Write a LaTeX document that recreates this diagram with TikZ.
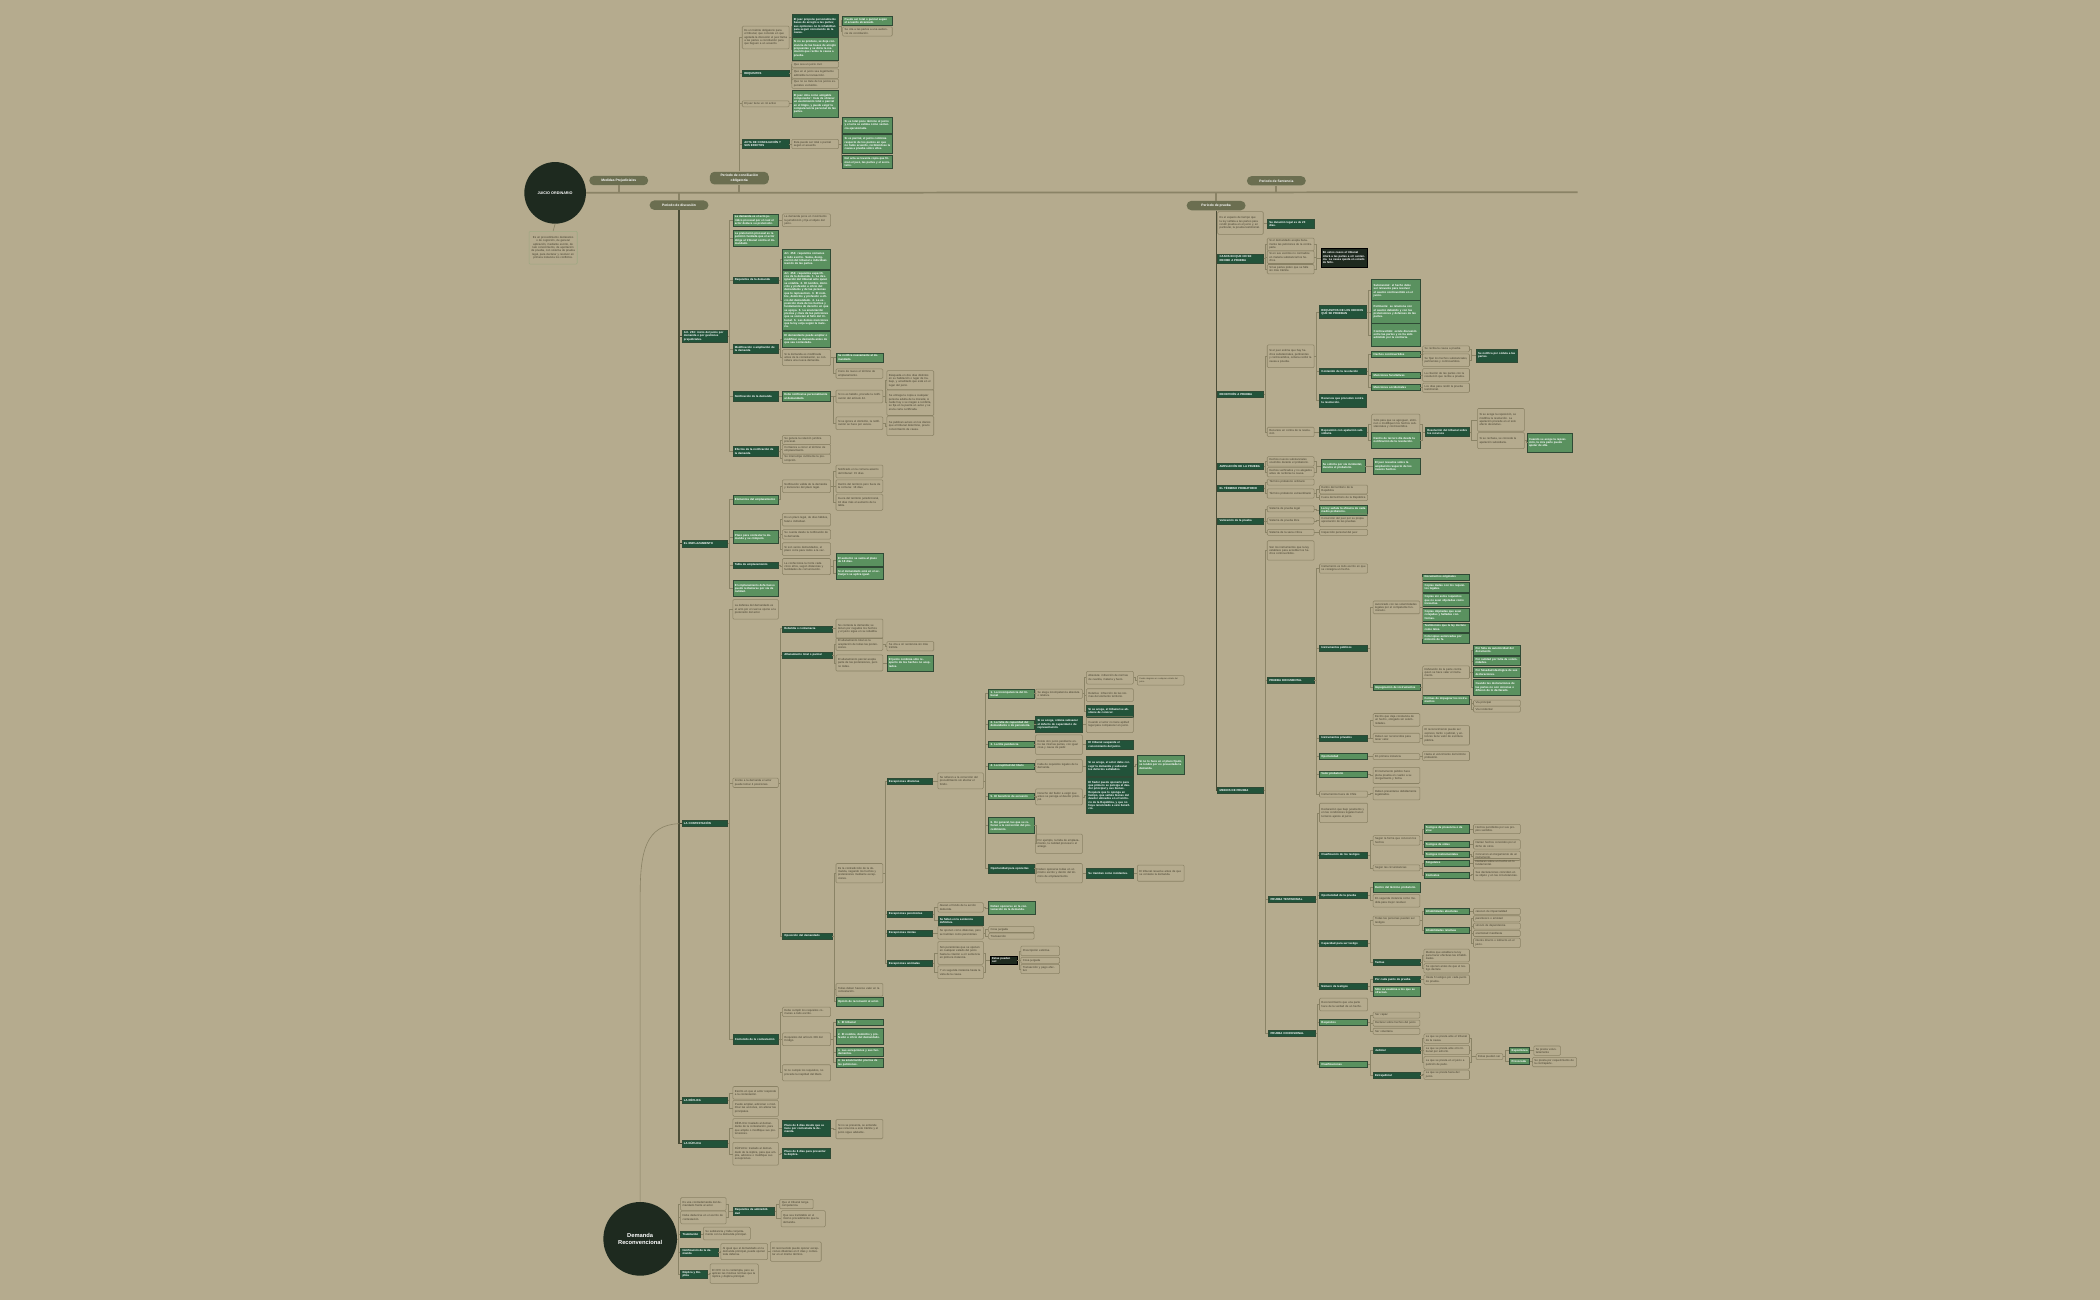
\documentclass[tikz,border=0pt]{standalone}
\usepackage{fontspec}
\setmainfont{Liberation Sans}
\usepackage{tikz}
\usetikzlibrary{positioning}

\definecolor{fondo}{HTML}{B5AB8E}
\definecolor{verdeosc}{HTML}{22533A}
\definecolor{verdecla}{HTML}{5A915F}
\definecolor{bordeosc}{HTML}{2F4A35}
\definecolor{borde}{HTML}{8A8265}
\definecolor{bordeclaro}{HTML}{9DA882}
\definecolor{oliva}{HTML}{6B6E50}
\definecolor{negro}{HTML}{1E2A1F}
\definecolor{texto}{HTML}{433E2D}
\definecolor{linea}{HTML}{8A8366}
\definecolor{ejes}{HTML}{4A4C36}

\begin{document}
\begin{tikzpicture}[x=1pt,y=-1pt,
	caja/.style={anchor=west, text width=31pt, inner xsep=1.5pt, inner ysep=1pt, align=left, line width=0.4pt, font=\fontsize{2.1}{2.5}\selectfont},
	osc/.style={caja, fill=verdeosc, draw=bordeosc, text=white, font=\fontsize{2.1}{2.5}\selectfont\bfseries},
	cla/.style={caja, fill=verdecla, draw=bordeosc, text=white, font=\fontsize{2.1}{2.5}\selectfont\bfseries},
	gri/.style={caja, draw=borde, rounded corners=0.8pt, text=texto},
	neg/.style={caja, fill=negro, draw=black, text=white, font=\fontsize{2.1}{2.5}\selectfont\bfseries},
	pil/.style={fill=oliva, text=white, rounded corners=3.5pt, minimum width=44pt, minimum height=7pt, inner sep=0.5pt, align=center, font=\fontsize{2.5}{3}\selectfont\bfseries},
	circ/.style={circle, fill=negro, text=white, align=center, inner sep=0pt},
	tw/.style={text width=#1pt},
	nl/.style={minimum height=#1*2.5pt+2pt},
	ln/.style={draw=linea, line width=0.45pt},
	eje/.style={draw=ejes, line width=0.8pt},
	tl/.style={draw=linea, line width=1.3pt}]

\fill[fondo] (0,0) rectangle (1568,971);
\useasboundingbox (0,0) rectangle (1568,971);

% linea de tiempo
\node[circ, minimum size=46pt, font=\fontsize{2.8}{3.3}\selectfont\bfseries] (jo) at (414.5,144) {JUICIO ORDINARIO};
\node[gri, anchor=north, tw=33, align=center, draw=bordeclaro, nl=9] (jodef) at (413,172.5) {Es un procedimiento declarativo o de cognición, de general aplicación, mediante escrito, de lato conocimiento, de aportación de prueba, con sistema de prueba legal, para declarar y resolver en primera instancia los conflictos.};
\coordinate (finlinea) at (1178,143.5);

\node[pil] (mp) at (462,134.8) {Medidas Prejudiciales};
\node[pil, minimum height=9.5pt] (pc) at (552,133) {Periodo de conciliación\\obligatoria};
\node[pil] (pd) at (507,153.2) {Periodo de discusión};
\node[pil] (ps) at (953,135) {Periodo de Sentencia};
\node[pil] (pp) at (908,153.5) {Periodo de prueba};

% conciliacion
\node[gri, tw=32, nl=6] (c1) at (554,28) {Es un trámite obligatorio para el tribunal, que consiste en que agotada la discusión el juez llama a las partes a conciliación para que lleguen a un acuerdo.};
\node[osc, tw=32, nl=6] (c1a) at (591,19.5) {El juez propone personalmente bases de arreglo a las partes; sus opiniones no lo inhabilitan para seguir conociendo de la causa.};
\node[cla, tw=34, nl=2] (c1a1) at (629,15.5) {Puede ser total o parcial según el acuerdo alcanzado.};
\node[gri, tw=34, nl=2] (c1a2) at (629,23.5) {Se cita a las partes a una audiencia de conciliación.};
\node[cla, tw=32, nl=6] (c1b) at (591,36.5) {Si no se produce, se deja constancia de las bases de arreglo propuestas y se dicta la resolución que recibe la causa a prueba.};
\node[osc, tw=32, nl=1] (c2) at (554,55) {REQUISITOS};
\node[gri, tw=32, nl=1] (c2a) at (591,48) {Que sea un juicio civil.};
\node[gri, tw=32, nl=2] (c2b) at (591,55) {Que en el juicio sea legalmente admisible la transacción.};
\node[gri, tw=32, nl=2] (c2c) at (591,62.5) {Que no se trate de los juicios especiales excluidos.};
\node[gri, tw=32, nl=1] (c3) at (554,77.5) {El juez tiene un rol activo};
\node[cla, tw=32, nl=7] (c3a) at (591,77.5) {El juez obra como amigable componedor: trata de obtener un avenimiento total o parcial en el litigio, y puede exigir la comparecencia personal de las partes.};
\node[osc, tw=32, nl=2] (c4) at (554,107.5) {ACTA DE CONCILIACIÓN Y SUS EFECTOS};
\node[gri, tw=32, nl=2] (c4a) at (591,107.5) {Esta puede ser total o parcial según el acuerdo.};
\node[cla, tw=34, nl=4] (c4a1) at (629,93.5) {Si es total pone término al juicio y el acta se estima como sentencia ejecutoriada.};
\node[cla, tw=34, nl=5] (c4a2) at (629,107.5) {Si es parcial, el juicio continúa respecto de los puntos en que no hubo acuerdo, recibiéndose la causa a prueba sobre ellos.};
\node[cla, tw=34, nl=3] (c4a3) at (629,121) {Del acta se levanta copia que firman el juez, las partes y el secretario.};

% discusion
\node[osc, nl=3] (d1) at (509,251) {Art. 253: inicio del juicio por demanda o por gestiones prejudiciales.};
\node[cla, nl=3] (d1a) at (547,164.5) {La demanda es el acto jurídico procesal por el cual el actor deduce su pretensión.};
\node[gri, tw=33, nl=3] (d1a1) at (584,164.5) {La demanda pone en movimiento la jurisdicción y fija el objeto del juicio.};
\node[cla, nl=4] (d1b) at (547,178) {La pretensión procesal es la petición fundada que el actor dirige al tribunal contra el demandado.};
\node[osc, nl=1] (d1c) at (547,209) {Requisitos de la demanda};
\node[cla, tw=33, nl=5] (d1c1) at (584,193.5) {Art. 254: requisitos comunes a todo escrito. Suma, designación del tribunal e individualización de las partes.};
\node[cla, tw=33, nl=17] (d1c2) at (584,224) {Art. 254: requisitos específicos de la demanda. 1. La designación del tribunal ante quien se entabla. 2. El nombre, domicilio y profesión u oficio del demandante y de las personas que lo representen. 3. El nombre, domicilio y profesión u oficio del demandado. 4. La exposición clara de los hechos y fundamentos de derecho en que se apoya. 5. La enunciación precisa y clara de las peticiones que se sometan al fallo del tribunal. 6. Las demás menciones que la ley exija según la materia.};
\node[osc, nl=2] (d1d) at (547,260.5) {Modificación o ampliación de la demanda};
\node[cla, tw=33, nl=4] (d1d1) at (584,253.5) {El demandante puede ampliar o modificar su demanda antes de que sea contestada.};
\node[gri, tw=33, nl=4] (d1d2) at (584,267) {Si la demanda es modificada antes de la contestación, se considera una nueva demanda.};
\node[cla, tw=32, nl=2] (d1d21) at (624,267) {Se notifica nuevamente al demandado.};
\node[gri, tw=32, nl=2] (d1d22) at (624,279) {Corre de nuevo el término de emplazamiento.};
\node[osc, nl=2] (d1e) at (547,296) {Notificación de la demanda};
\node[cla, tw=33, nl=2] (d1e1) at (584,296) {Debe notificarse personalmente al demandado.};
\node[gri, tw=32, nl=3] (d1e11) at (624,296) {Si no es habido, procede la notificación del artículo 44.};
\node[gri, tw=32, nl=3] (d1e12) at (624,316) {Si se ignora el domicilio, la notificación se hace por avisos.};
\node[gri, tw=32, nl=5] (d1e111) at (662,284) {Búsqueda en dos días distintos en su habitación o lugar de trabajo, y acreditado que está en el lugar del juicio.};
\node[gri, tw=32, nl=7] (d1e112) at (662,300.5) {Se entrega la copia a cualquier persona adulta de la morada; si nadie hay o se niegan a recibirla, se fija en la puerta un aviso y se envía carta certificada.};
\node[gri, tw=32, nl=5] (d1e121) at (662,318) {Se publican avisos en los diarios que el tribunal determine, previo conocimiento de causa.};
\node[osc, nl=2] (d1f) at (547,337) {Efectos de la notificación de la demanda};
\node[gri, tw=33, nl=2] (d1f1) at (584,328.5) {Se genera la relación jurídica procesal.};
\node[gri, tw=33, nl=2] (d1f2) at (584,335.5) {Comienza a correr el término de emplazamiento.};
\node[gri, tw=33, nl=2] (d1f3) at (584,342.5) {Se interrumpe civilmente la prescripción.};

\node[osc, nl=1] (d2) at (509,406) {EL EMPLAZAMIENTO};
\node[cla, nl=2] (d2a) at (547,373) {Elementos del emplazamiento};
\node[gri, tw=33, nl=3] (d2a1) at (584,363) {Notificación válida de la demanda y transcurso del plazo legal.};
\node[gri, tw=32, nl=3] (d2a11) at (624,352) {Notificado en la comuna asiento del tribunal: 15 días.};
\node[gri, tw=32, nl=3] (d2a12) at (624,363) {Dentro del territorio pero fuera de la comuna: 18 días.};
\node[gri, tw=32, nl=4] (d2a13) at (624,375) {Fuera del territorio jurisdiccional, 18 días más el aumento de la tabla.};
\node[cla, nl=3] (d2b) at (547,401) {Plazo para contestar la demanda y su cómputo.};
\node[gri, tw=33, nl=3] (d2b1) at (584,388) {Es un plazo legal, de días hábiles, fatal e individual.};
\node[gri, tw=33, nl=2] (d2b2) at (584,399) {Se cuenta desde la notificación de la demanda.};
\node[gri, tw=33, nl=3] (d2b3) at (584,410) {Si son varios demandados, el plazo corre para todos a la vez.};
\node[osc, nl=1] (d2c) at (547,422) {Tabla de emplazamiento};
\node[gri, tw=33, nl=4] (d2c1) at (584,423) {La confecciona la Corte cada cinco años, según distancias y facilidades de comunicación.};
\node[cla, tw=32, nl=3] (d2c11) at (624,418) {El aumento se suma al plazo de 18 días.};
\node[cla, tw=32, nl=3] (d2c12) at (624,428) {Si el demandado está en el extranjero se aplica igual.};
\node[cla, nl=4] (d2d) at (547,439.5) {El emplazamiento defectuoso puede reclamarse por vía de nulidad.};

\node[osc, nl=1] (d3) at (509,615) {LA CONTESTACIÓN};
\node[gri, nl=5] (d3a) at (547,455) {La defensa del demandado es el acto por el cual se opone a la pretensión del actor.};
\node[gri, nl=2] (d3b) at (547,584.5) {Frente a la demanda el actor puede tomar 4 posiciones.};
\node[osc, tw=34, nl=1] (d3b1) at (584,469.5) {Rebeldía o contumacia};
\node[gri, tw=32, nl=5] (d3b11) at (624,469.5) {No contesta la demanda; se tienen por negados los hechos y el juicio sigue en su rebeldía.};
\node[osc, tw=34, nl=1] (d3b2) at (584,489) {Allanamiento total o parcial};
\node[gri, tw=32, nl=3] (d3b21) at (624,481) {El allanamiento total es la aceptación de todas las pretensiones.};
\node[gri, tw=32, nl=2] (d3b211) at (662,482.5) {Se cita a oír sentencia sin más trámite.};
\node[gri, tw=32, nl=4] (d3b22) at (624,495) {El allanamiento parcial acepta parte de las pretensiones, pero no todas.};
\node[cla, tw=32, nl=4] (d3b221) at (662,495) {El juicio continúa sólo respecto de los hechos no aceptados.};
\node[osc, tw=34, nl=1] (d3b3) at (584,699) {Oposición del demandado};
\node[gri, tw=32, nl=5] (d3b31) at (624,652) {Es la contradicción de la demanda, negando los hechos y pretensiones mediante excepciones.};
\node[gri, tw=32, nl=3] (d3b32) at (624,739) {Todas deben hacerse valer en la contestación.};
\node[cla, tw=32, nl=2] (d3b33) at (624,748) {Opción de reconvenir al actor.};

\node[osc, nl=1] (e1) at (662,583.5) {Excepciones dilatorias};
\node[gri, nl=4] (e1a) at (700,583) {Se refieren a la corrección del procedimiento sin afectar el fondo.};
\node[cla, nl=1] (x1) at (738,518) {1. La incompetencia del tribunal};
\node[gri, tw=32, nl=2] (x1a) at (773,518) {Se alega incompetencia absoluta o relativa.};
\node[gri, tw=32, nl=3] (x1a1) at (811,506) {Absoluta: infracción de normas de cuantía, materia y fuero.};
\node[gri, tw=32, nl=2, font=\fontsize{1.6}{2}\selectfont] (x1a11) at (849,508) {Puede alegarse en cualquier estado del juicio.};
\node[gri, tw=32, nl=3] (x1a2) at (811,519) {Relativa: infracción de las normas del elemento territorio.};
\node[osc, tw=32, nl=3] (x1a3) at (811,531) {Si se acoge, el tribunal se abstiene de conocer.};
\node[cla, nl=2] (x2) at (738,541) {2. La falta de capacidad del demandante o de personería.};
\node[osc, tw=32, nl=4] (x2a) at (773,541) {Si se acoge, ordena subsanar el defecto de capacidad o de representación.};
\node[gri, tw=32, nl=4] (x2a1) at (811,541) {Cuando el actor no tiene aptitud legal para comparecer en juicio.};
\node[cla, nl=1] (x3) at (738,556) {3. La litis pendencia};
\node[gri, tw=32, nl=5] (x3a) at (773,556) {Existe otro juicio pendiente entre las mismas partes, con igual cosa y causa de pedir.};
\node[osc, tw=32, nl=2] (x3a1) at (811,556) {El tribunal suspende el conocimiento del juicio.};
\node[cla, nl=1] (x4) at (738,572) {4. La ineptitud del libelo};
\node[gri, tw=32, nl=3] (x4a) at (773,572) {Falta de requisitos legales de la demanda.};
\node[osc, tw=32, nl=5] (x4a1) at (811,572) {Si se acoge, el actor debe corregir la demanda y subsanar los defectos señalados.};
\node[cla, tw=32, nl=5] (x4a11) at (849,571) {Si no lo hace en el plazo fijado, se tendrá por no presentada la demanda.};
\node[cla, nl=1] (x5) at (738,594.5) {5. El beneficio de excusión};
\node[gri, tw=32, nl=4] (x5a) at (773,595) {Derecho del fiador a exigir que antes se persiga al deudor principal.};
\node[osc, tw=32, nl=10] (x5a1) at (811,594) {El fiador puede oponerlo para que primero se persiga al deudor principal y sus bienes. Requiere que lo oponga en tiempo, que señale bienes del deudor ubicados en el territorio de la República, y que no haya renunciado a este beneficio.};
\node[cla, nl=4] (x6) at (738,616.5) {6. En general, las que se refieren a la corrección del procedimiento.};
\node[gri, tw=32, nl=5] (x6a) at (773,630) {Por ejemplo, la falta de emplazamiento, la nulidad procesal o el arraigo.};
\node[osc, nl=2] (x7) at (738,648.5) {Oportunidad para oponerlas};
\node[gri, tw=32, nl=5] (x7a) at (773,652) {Deben oponerse todas en un mismo escrito y dentro del término de emplazamiento.};
\node[osc, tw=32, nl=2] (x7a1) at (811,652) {Se tramitan como incidentes.};
\node[gri, tw=32, nl=4] (x7a11) at (849,652) {El tribunal resuelve antes de que se conteste la demanda.};

\node[osc, nl=1] (e2) at (662,682.5) {Excepciones perentorias};
\node[gri, nl=2] (e2a) at (700,677.5) {Atacan el fondo de la acción deducida.};
\node[cla, tw=32, nl=3] (e2a1) at (738,678) {Deben oponerse en la contestación de la demanda.};
\node[osc, nl=2] (e2b) at (700,687.5) {Se fallan en la sentencia definitiva.};
\node[osc, nl=1] (e3) at (662,696.5) {Excepciones mixtas};
\node[gri, nl=3] (e3a) at (700,696.5) {Se oponen como dilatorias, pero se tramitan como perentorias.};
\node[gri, nl=1] (e3a1) at (738,694) {Cosa juzgada};
\node[gri, nl=1] (e3a2) at (738,699) {Transacción};
\node[osc, nl=1] (e4) at (662,719.5) {Excepciones anómalas};
\node[gri, nl=6] (e4a) at (700,711.5) {Son perentorias que se oponen en cualquier estado del juicio hasta la citación a oír sentencia en primera instancia.};
\node[gri, nl=3] (e4b) at (700,726) {Y en segunda instancia hasta la vista de la causa.};
\node[neg, tw=17, nl=1] (e4c) at (739,717) {Estas pueden ser:};
\node[gri, tw=26, nl=2] (e4c1) at (762,710) {Prescripción extintiva};
\node[gri, tw=26, nl=1] (e4c2) at (762,717) {Cosa juzgada};
\node[gri, tw=26, nl=2] (e4c3) at (762,723.5) {Transacción y pago efectivo};

\node[osc, nl=2] (d3c) at (547,776) {Contenido de la contestación};
\node[gri, tw=33, nl=2] (d3c1) at (584,755.5) {Debe cumplir los requisitos comunes a todo escrito.};
\node[gri, tw=33, nl=3] (d3c2) at (584,776) {Requisitos del artículo 309 del Código.};
\node[cla, tw=32, nl=1] (d3c21) at (624,763.5) {1. El tribunal};
\node[cla, tw=32, nl=4] (d3c22) at (624,773.5) {2. El nombre, domicilio y profesión u oficio del demandado.};
\node[cla, tw=32, nl=2] (d3c23) at (624,785.5) {3. Las excepciones y sus fundamentos.};
\node[cla, tw=32, nl=2] (d3c24) at (624,793.5) {4. La enunciación precisa de las peticiones.};
\node[gri, tw=33, nl=4] (d3c3) at (584,801) {Si no cumple los requisitos, no procede la ineptitud del libelo.};

\node[osc, nl=1] (d4) at (509,821.5) {LA RÉPLICA};
\node[gri, nl=3] (d4a) at (547,816) {Escrito en que el actor responde a la contestación.};
\node[gri, nl=4] (d4b) at (547,827.5) {Puede ampliar, adicionar o modificar las acciones, sin alterar las principales.};
\node[osc, nl=1] (d5) at (509,854) {LA DÚPLICA};
\node[gri, nl=5] (d5a) at (547,842.5) {RÉPLICA: traslado al demandante de la contestación, para que amplíe o modifique sus pretensiones.};
\node[osc, tw=33, nl=4] (d5a1) at (584,842.5) {Plazo de 6 días desde que se tiene por contestada la demanda.};
\node[gri, tw=32, nl=5] (d5a11) at (624,843) {Si no se presenta, se entiende que renuncia a este trámite y el juicio sigue adelante.};
\node[gri, nl=6] (d5b) at (547,861.5) {DÚPLICA: traslado al demandado de la réplica, para que amplíe, adicione o modifique sus excepciones.};
\node[osc, tw=33, nl=2] (d5b1) at (584,861) {Plazo de 6 días para presentar la dúplica.};

% reconvencion
\node[circ, minimum size=55pt, font=\fontsize{4.3}{5.4}\selectfont\bfseries] (dr) at (478,925) {Demanda\\Reconvencional};
\coordinate (codo) at (478,668);
\node[gri, nl=3] (r1) at (508,899) {Es una contrademanda del demandado frente al actor.};
\node[gri, nl=3] (r2) at (508,909) {Debe deducirse en el escrito de contestación.};
\node[osc, tw=28, nl=1] (r3) at (547,904.5) {Requisitos de admisibilidad};
\node[gri, tw=22, nl=2] (r31) at (582,899) {Que el tribunal tenga competencia.};
\node[gri, tw=30, nl=4] (r32) at (583,910) {Que sea tramitable en el mismo procedimiento que la demanda.};
\node[osc, tw=12, nl=1] (r4) at (508,921.5) {Tramitación};
\node[gri, tw=32, nl=3] (r41) at (525,921) {Se substancia y falla conjuntamente con la demanda principal.};
\node[osc, tw=25, nl=1] (r5) at (508,935) {Notificación de la demanda};
\node[gri, tw=32, nl=4] (r51) at (538,934.5) {Al igual que el demandado en la demanda principal, puede oponer toda defensa.};
\node[gri, tw=35, nl=5] (r511) at (575,934.5) {El reconvenido puede oponer excepciones dilatorias en 6 días y contestar en el mismo término.};
\node[osc, tw=17, nl=1] (r6) at (508,951.5) {Réplica y Dúplica};
\node[gri, tw=33, nl=5] (r61) at (530,951) {El CPC no lo contempla, pero se aplican las mismas normas que la réplica y dúplica principal.};

% prueba
\node[gri, nl=6] (p1) at (909,166.5) {Es el espacio de tiempo que la ley señala a las partes para rendir prueba en el juicio y, en particular, la prueba testimonial.};
\node[osc, tw=32, nl=2] (p1a) at (946,167) {Su duración legal es de 20 días.};
\node[osc, nl=2] (p2) at (909,193) {CASOS EN QUE NO SE RECIBE A PRUEBA};
\node[gri, tw=32, nl=3] (p2a) at (946,182.5) {Si el demandado acepta llanamente las peticiones de la contraparte.};
\node[gri, tw=32, nl=3] (p2b) at (946,192) {Si en sus escritos no contradice en materia substancial los hechos.};
\node[gri, tw=32, nl=2] (p2c) at (946,201) {Si las partes piden que se falle sin más trámite.};
\node[neg, tw=32, nl=5] (p2d) at (986,192.5) {En estos casos el tribunal citará a las partes a oír sentencia. La causa queda en estado de fallo.};
\node[osc, nl=1] (p3) at (909,294.5) {RECEPCIÓN A PRUEBA};
\node[gri, tw=32, nl=6] (p3a) at (946,266) {Si el juez estima que hay hechos substanciales, pertinentes y controvertidos, ordena recibir la causa a prueba.};
\node[osc, tw=32, nl=3] (p3a1) at (985,233) {REQUISITOS DE LOS HECHOS QUE SE PRUEBAN};
\node[cla, tw=33, nl=6] (p3a11) at (1024,217) {Substancial: el hecho debe ser relevante para resolver el asunto controvertido en el juicio.};
\node[cla, tw=33, nl=6] (p3a12) at (1024,233) {Pertinente: se relaciona con el asunto debatido y con las pretensiones y defensas de las partes.};
\node[cla, tw=33, nl=6] (p3a13) at (1024,250) {Controvertido: existe discusión entre las partes y no ha sido admitido por la contraria.};
\node[osc, tw=32, nl=1] (p3a2) at (985,277) {Contenido de la resolución};
\node[cla, tw=33, nl=1] (p3a21) at (1024,264.5) {Hechos controvertidos};
\node[gri, tw=32, nl=1] (p3a211) at (1062,260.5) {Se reciba la causa a prueba};
\node[gri, tw=32, nl=3] (p3a212) at (1062,269) {Se fijan los hechos substanciales, pertinentes y controvertidos.};
\node[osc, tw=28, nl=3] (p3a213) at (1102,265.5) {Se notifica por cédula a las partes.};
\node[cla, tw=33, nl=1] (p3a22) at (1024,280) {Menciones facultativas};
\node[gri, tw=32, nl=3] (p3a221) at (1062,280) {La citación de las partes con la resolución que recibe a prueba.};
\node[cla, tw=33, nl=1] (p3a23) at (1024,289) {Menciones accidentales};
\node[gri, tw=32, nl=2] (p3a231) at (1062,289.5) {Los días para rendir la prueba testimonial.};
\node[osc, tw=32, nl=3] (p3a3) at (985,299) {Recursos que proceden contra la resolución.};
\node[gri, tw=32, nl=2] (p3b) at (946,322.5) {Recursos en contra de la resolución};
\node[osc, tw=32, nl=2] (p3b1) at (985,322.5) {Reposición con apelación subsidiaria};
\node[gri, tw=33, nl=5] (p3b11) at (1024,316.5) {Sólo para que se agreguen, eliminen o modifiquen los hechos substanciales y controvertidos.};
\node[cla, tw=33, nl=4] (p3b12) at (1024,328.5) {Dentro de tercero día desde la notificación de la resolución.};
\node[osc, tw=30, nl=2] (p3b13) at (1064,322.5) {Resolución del tribunal sobre los recursos};
\node[gri, tw=32, nl=6] (p3b131) at (1103,313.5) {Si se acoge la reposición, se modifica la resolución. La apelación procede en el solo efecto devolutivo.};
\node[gri, tw=32, nl=4] (p3b132) at (1103,329) {Si se rechaza, se concede la apelación subsidiaria.};
\node[cla, tw=31, nl=5] (p3b1321) at (1140,330.5) {Cuando se acoge la reposición, la otra parte puede apelar de ella.};
\node[osc, nl=1] (p4) at (909,348) {AMPLIACIÓN DE LA PRUEBA};
\node[gri, tw=32, nl=2] (p4a) at (946,344.5) {Hechos nuevos substanciales ocurridos durante el probatorio.};
\node[gri, tw=32, nl=2] (p4b) at (946,352.5) {Hechos verificados y no alegados antes de recibirse la causa.};
\node[cla, tw=30, nl=3] (p4c) at (986,348) {Se solicita por vía incidental, durante el probatorio.};
\node[cla, tw=32, nl=4] (p4d) at (1025,348) {El juez resuelve sobre la ampliación respecto de los nuevos hechos.};
\node[osc, nl=1] (p5) at (909,364.5) {EL TÉRMINO PROBATORIO};
\node[gri, tw=32, nl=1] (p5a) at (946,360) {Término probatorio ordinario};
\node[gri, tw=32, nl=2] (p5b) at (946,368.5) {Término probatorio extraordinario};
\node[gri, tw=33, nl=1] (p5b1) at (985,365.5) {Dentro del territorio de la República};
\node[gri, tw=33, nl=1] (p5b2) at (985,371.5) {Fuera del territorio de la República};
\node[osc, nl=1] (p6) at (909,389) {Valoración de la prueba};
\node[gri, tw=32, nl=1] (p6a) at (946,380) {Sistema de prueba legal};
\node[cla, tw=33, nl=2] (p6a1) at (985,381) {La ley señala la eficacia de cada medio probatorio.};
\node[gri, tw=32, nl=1] (p6b) at (946,389) {Sistema de prueba libre};
\node[gri, tw=33, nl=3] (p6b1) at (985,388.5) {Convicción del juez por su propia apreciación de las pruebas.};
\node[gri, tw=32, nl=1] (p6c) at (946,397.5) {Sistema de la sana crítica};
\node[gri, tw=33, nl=1] (p6c1) at (985,397.5) {Inspección personal del juez};

\node[osc, nl=1] (p7) at (909,590) {MEDIOS DE PRUEBA};
\node[gri, tw=32, nl=5] (p7a) at (946,411) {Son los instrumentos que la ley establece para acreditar los hechos controvertidos.};
\node[osc, tw=32, nl=1] (p7b) at (946,508) {PRUEBA DOCUMENTAL};
\node[gri, tw=33, nl=2] (b1) at (985,424.5) {Instrumento es todo escrito en que se consigna un hecho.};
\node[osc, tw=33, nl=1] (b2) at (985,484) {Instrumentos públicos};
\node[gri, tw=32, nl=3] (b21) at (1025,453.5) {Autorizado con las solemnidades legales por el competente funcionario.};
\node[cla, tw=32, nl=1] (b211) at (1062,431) {Documentos originales};
\node[cla, tw=32, nl=2] (b212) at (1062,438.5) {Copias dadas con los requisitos legales.};
\node[cla, tw=32, nl=3] (b213) at (1062,448) {Copias sin estos requisitos que no sean objetadas como inexactas.};
\node[cla, tw=32, nl=3] (b214) at (1062,459) {Copias objetadas que sean cotejadas y halladas conformes.};
\node[cla, tw=32, nl=2] (b215) at (1062,468.5) {Testimonios que la ley declare como tales.};
\node[cla, tw=32, nl=2] (b216) at (1062,476.5) {Fotocopias autorizadas por ministro de fe.};
\node[cla, tw=32, nl=1] (b22) at (1025,513.5) {Impugnación de instrumentos};
\node[gri, tw=32, nl=3] (b221) at (1062,502) {Refutación de la parte contra quien se hace valer el instrumento.};
\node[cla, tw=32, nl=2] (b2211) at (1100,485.5) {Por falta de autenticidad del documento.};
\node[cla, tw=32, nl=2] (b2212) at (1100,493.5) {Por nulidad por falta de solemnidades.};
\node[cla, tw=32, nl=2] (b2213) at (1100,502) {Por falsedad ideológica de sus declaraciones.};
\node[cla, tw=32, nl=4] (b2214) at (1100,513) {Cuando las declaraciones de las partes no son sinceras o difieren de lo declarado.};
\node[cla, tw=32, nl=2] (b222) at (1062,522.5) {Formas de impugnar los instrumentos};
\node[gri, tw=32, nl=1] (b2221) at (1100,525) {Vía principal};
\node[gri, tw=32, nl=1] (b2222) at (1100,529.5) {Vía incidental};
\node[osc, tw=33, nl=1] (b3) at (985,551) {Instrumentos privados};
\node[gri, tw=32, nl=3] (b31) at (1025,537.5) {Escrito que deja constancia de un hecho, otorgado sin solemnidades.};
\node[gri, tw=32, nl=2] (b32) at (1025,551) {Deben ser reconocidos para tener valor.};
\node[gri, tw=32, nl=5] (b321) at (1062,549) {El reconocimiento puede ser expreso, tácito o judicial, y entonces tiene valor de escritura pública.};
\node[cla, tw=33, nl=1] (b4) at (985,565) {Oportunidad};
\node[gri, tw=32, nl=1] (b41) at (1025,565) {En primera instancia};
\node[gri, tw=32, nl=2] (b411) at (1062,564.5) {Hasta el vencimiento del término probatorio.};
\node[cla, tw=33, nl=1] (b5) at (985,578) {Valor probatorio};
\node[gri, tw=32, nl=4] (b51) at (1025,579) {El instrumento público hace plena prueba en cuanto a su otorgamiento y fecha.};
\node[gri, tw=33, nl=1] (b6) at (985,593) {Instrumentos fuera de Chile};
\node[gri, tw=32, nl=3] (b61) at (1025,592.5) {Deben presentarse debidamente legalizados.};

\node[osc, tw=32, nl=1] (p7c) at (947,671.5) {PRUEBA TESTIMONIAL};
\node[gri, tw=33, nl=5] (t1) at (985,607) {Declaración que bajo juramento y en las condiciones legales hacen terceros ajenos al juicio.};
\node[osc, tw=33, nl=1] (t2) at (985,638.5) {Clasificación de los testigos};
\node[gri, tw=32, nl=2] (t21) at (1025,627.5) {Según la forma que conocen los hechos};
\node[cla, tw=31, nl=2] (t211) at (1063,619) {Testigos de presencia o de visu};
\node[gri, tw=32, nl=2] (t2111) at (1100,619) {Hechos percibidos por sus propios sentidos.};
\node[cla, tw=31, nl=1] (t212) at (1063,630.5) {Testigos de oídas};
\node[gri, tw=32, nl=2] (t2121) at (1100,630.5) {Narran hechos conocidos por el dicho de otros.};
\node[cla, tw=31, nl=1] (t213) at (1063,638) {Testigos instrumentales};
\node[gri, tw=32, nl=2] (t2131) at (1100,639) {Concurren al otorgamiento de un instrumento.};
\node[gri, tw=32, nl=1] (t22) at (1025,648) {Según las circunstancias};
\node[cla, tw=31, nl=1] (t221) at (1063,644.5) {Singulares};
\node[gri, tw=32, nl=2] (t2211) at (1100,644.5) {Declaran sobre un hecho en lo fundamental.};
\node[cla, tw=31, nl=1] (t222) at (1063,653.5) {Contestes};
\node[gri, tw=32, nl=3] (t2221) at (1100,653) {Sus declaraciones coinciden en su objeto y en las circunstancias.};
\node[osc, tw=33, nl=1] (t3) at (985,668.5) {Oportunidad de la prueba};
\node[cla, tw=32, nl=2] (t31) at (1025,662.5) {Dentro del término probatorio.};
\node[gri, tw=32, nl=3] (t32) at (1025,672.5) {En segunda instancia como medida para mejor resolver.};
\node[osc, tw=33, nl=1] (t4) at (985,704.5) {Capacidad para ser testigo};
\node[gri, tw=32, nl=2] (t41) at (1025,687.5) {Todas las personas pueden ser testigos};
\node[cla, tw=31, nl=1] (t411) at (1063,680.5) {Inhabilidades absolutas};
\node[gri, tw=32, nl=1] (t4111) at (1100,680.5) {carecen de imparcialidad};
\node[cla, tw=31, nl=1] (t412) at (1063,694.5) {Inhabilidades relativas};
\node[gri, tw=32, nl=1] (t4121) at (1100,686) {parentesco o amistad};
\node[gri, tw=32, nl=1] (t4122) at (1100,691.5) {vínculo de dependencia};
\node[gri, tw=32, nl=1] (t4123) at (1100,697) {enemistad manifiesta};
\node[gri, tw=32, nl=2] (t4124) at (1100,704) {interés directo o indirecto en el juicio.};
\node[osc, tw=32, nl=1] (t42) at (1025,718.5) {Tachas};
\node[gri, tw=31, nl=3] (t421) at (1063,713.5) {Medios que establece la ley para hacer efectivas las inhabilidades.};
\node[gri, tw=31, nl=2] (t422) at (1063,723) {Se oponen antes de que el testigo declare.};
\node[osc, tw=33, nl=1] (t5) at (985,736.5) {Número de testigos};
\node[osc, tw=32, nl=1] (t51) at (1025,731.5) {Por cada punto de prueba};
\node[gri, tw=31, nl=2] (t511) at (1063,731.5) {Hasta 6 testigos por cada punto de prueba.};
\node[cla, tw=32, nl=2] (t52) at (1025,740) {Sólo se examina a los que se ofrezcan.};

\node[osc, tw=32, nl=1] (p7d) at (947,771.5) {PRUEBA CONFESIONAL};
\node[gri, tw=33, nl=3] (f1) at (985,750) {Reconocimiento que una parte hace de la verdad de un hecho.};
\node[cla, tw=33, nl=1] (f2) at (985,763.5) {Requisitos};
\node[gri, tw=32, nl=1] (f21) at (1025,758) {Ser capaz};
\node[gri, tw=32, nl=1] (f22) at (1025,764) {Declarar sobre hechos del juicio};
\node[gri, tw=32, nl=1] (f23) at (1025,770) {Ser voluntaria};
\node[cla, tw=33, nl=1] (f3) at (985,794.5) {Clasificaciones};
\node[osc, tw=32, nl=1] (f31) at (1025,784.5) {Judicial};
\node[gri, tw=31, nl=2] (f311) at (1063,775.5) {La que se presta ante el tribunal de la causa.};
\node[gri, tw=31, nl=2] (f312) at (1063,784) {La que se presta ante otro tribunal por exhorto.};
\node[gri, tw=31, nl=3] (f313) at (1063,793.5) {La que se presta en el juicio a petición de parte.};
\node[gri, tw=17, nl=1] (f3131) at (1102,789) {Estas pueden ser};
\node[cla, tw=12, nl=1] (f31311) at (1127,784.5) {Espontánea};
\node[gri, tw=17, nl=2] (f313111) at (1145,784.5) {Se presta voluntariamente};
\node[cla, tw=12, nl=1] (f31312) at (1127,792.5) {Provocada};
\node[gri, tw=30, nl=2] (f313121) at (1144,793) {Se presta por requerimiento de la contraparte.};
\node[osc, tw=32, nl=1] (f32) at (1025,803) {Extrajudicial};
\node[gri, tw=31, nl=2] (f321) at (1063,802.5) {La que se presta fuera del juicio.};

% conectores
\draw[tl] (jo.east) -- (finlinea);
\foreach \b in {mp,pc,ps} \draw[tl] (\b.south) -- (\b.south |- jo.east);
\foreach \b in {pd,pp} \draw[tl] (\b.north) -- (\b.north |- jo.east);
\draw[ln] (jo.south) -- (jodef.north);

\draw[ln, line width=0.6pt] (pc.north) -- (pc.north |- c1.west);
\foreach \b in {c1,c2,c3,c4} \draw[ln, line width=0.6pt] (pc.north |- \b.west) -- (\b.west);
\draw[eje] (pd.south) -- (pd.south |- d5.west);
\foreach \b in {d1,d2,d3,d4,d5} \draw[eje] (pd.south |- \b.west) -- (\b.west);
\draw[eje] (pp.south) -- (pp.south |- p7.west);
\foreach \b in {p1,p2,p3,p4,p5,p6,p7} \draw[eje] (pp.south |- \b.west) -- (\b.west);
\draw[ln] (pd.south |- d3.west) .. controls (482,616) and (478,636) .. (codo) -- (dr.north);
\foreach \b in {r1,r2,r4,r5,r6} \draw[ln] (dr.east) -- ++(1,0) |- (\b.west);

\foreach \a/\b in {c1/c1a,c1/c1b,c1a/c1a1,c1a/c1a2,c2/c2a,c2/c2b,c2/c2c,c3/c3a,c4/c4a,c4a/c4a1,c4a/c4a2,c4a/c4a3,
	d1/d1a,d1/d1b,d1/d1c,d1/d1d,d1/d1e,d1/d1f,d1a/d1a1,d1c/d1c1,d1c/d1c2,d1d/d1d1,d1d/d1d2,d1d2/d1d21,d1d2/d1d22,
	d1e/d1e1,d1e1/d1e11,d1e1/d1e12,d1e11/d1e111,d1e11/d1e112,d1e12/d1e121,d1f/d1f1,d1f/d1f2,d1f/d1f3,
	d2/d2a,d2/d2b,d2/d2c,d2/d2d,d2a/d2a1,d2a1/d2a11,d2a1/d2a12,d2a1/d2a13,d2b/d2b1,d2b/d2b2,d2b/d2b3,d2c/d2c1,d2c1/d2c11,d2c1/d2c12,
	d3/d3a,d3/d3b,d3/d3c,d3b/d3b1,d3b/d3b2,d3b/d3b3,d3b1/d3b11,d3b2/d3b21,d3b2/d3b22,d3b21/d3b211,d3b22/d3b221,
	d3b3/d3b31,d3b3/d3b32,d3b3/d3b33,d3b31/e1,d3b31/e2,d3b31/e3,d3b31/e4,e1/e1a,
	e1a/x1,e1a/x2,e1a/x3,e1a/x4,e1a/x5,e1a/x6,e1a/x7,x1/x1a,x1a/x1a1,x1a/x1a2,x1a/x1a3,x1a1/x1a11,x2/x2a,x2a/x2a1,
	x3/x3a,x3a/x3a1,x4/x4a,x4a/x4a1,x4a1/x4a11,x5/x5a,x5a/x5a1,x6/x6a,x7/x7a,x7a/x7a1,x7a1/x7a11,
	e2/e2a,e2/e2b,e2a/e2a1,e3/e3a,e3a/e3a1,e3a/e3a2,e4/e4a,e4/e4b,e4a/e4c,e4b/e4c,e4c/e4c1,e4c/e4c2,e4c/e4c3,
	d3c/d3c1,d3c/d3c2,d3c/d3c3,d3c2/d3c21,d3c2/d3c22,d3c2/d3c23,d3c2/d3c24,
	d4/d4a,d4/d4b,d5/d5a,d5/d5b,d5a/d5a1,d5a1/d5a11,d5b/d5b1,
	r1/r3,r2/r3,r3/r31,r3/r32,r4/r41,r5/r51,r51/r511,r6/r61}
	\draw[ln] (\a.east) -- ++(1.5,0) |- (\b.west);

\foreach \a/\b in {p1/p1a,p2/p2a,p2/p2b,p2/p2c,p2a/p2d,p2b/p2d,p2c/p2d,
	p3/p3a,p3/p3b,p3a/p3a1,p3a/p3a2,p3a/p3a3,p3a1/p3a11,p3a1/p3a12,p3a1/p3a13,
	p3a2/p3a21,p3a2/p3a22,p3a2/p3a23,p3a21/p3a211,p3a21/p3a212,p3a211/p3a213,p3a212/p3a213,p3a22/p3a221,p3a23/p3a231,
	p3b/p3b1,p3b1/p3b11,p3b1/p3b12,p3b11/p3b13,p3b12/p3b13,p3b13/p3b131,p3b13/p3b132,p3b132/p3b1321,
	p4/p4a,p4/p4b,p4a/p4c,p4b/p4c,p4c/p4d,p5/p5a,p5/p5b,p5b/p5b1,p5b/p5b2,
	p6/p6a,p6/p6b,p6/p6c,p6a/p6a1,p6b/p6b1,p6c/p6c1,
	p7/p7a,p7/p7b,p7/p7c,p7/p7d,
	p7b/b1,p7b/b2,p7b/b3,p7b/b4,p7b/b5,p7b/b6,b2/b21,b2/b22,b21/b211,b21/b212,b21/b213,b21/b214,b21/b215,b21/b216,
	b22/b221,b22/b222,b221/b2211,b221/b2212,b221/b2213,b221/b2214,b222/b2221,b222/b2222,
	b3/b31,b3/b32,b32/b321,b4/b41,b41/b411,b5/b51,b6/b61,
	p7c/t1,p7c/t2,p7c/t3,p7c/t4,p7c/t5,t2/t21,t2/t22,t21/t211,t21/t212,t21/t213,t211/t2111,t212/t2121,t213/t2131,
	t22/t221,t22/t222,t221/t2211,t222/t2221,t3/t31,t3/t32,t4/t41,t4/t42,t41/t411,t41/t412,t411/t4111,
	t412/t4121,t412/t4122,t412/t4123,t412/t4124,t42/t421,t42/t422,t5/t51,t5/t52,t51/t511,
	p7d/f1,p7d/f2,p7d/f3,f2/f21,f2/f22,f2/f23,f3/f31,f3/f32,f31/f311,f31/f312,f31/f313,
	f311/f3131,f312/f3131,f313/f3131,f3131/f31311,f3131/f31312,f31311/f313111,f31312/f313121,f32/f321}
	\draw[ln] (\a.east) -- ++(1.5,0) |- (\b.west);
\end{tikzpicture}
\end{document}
